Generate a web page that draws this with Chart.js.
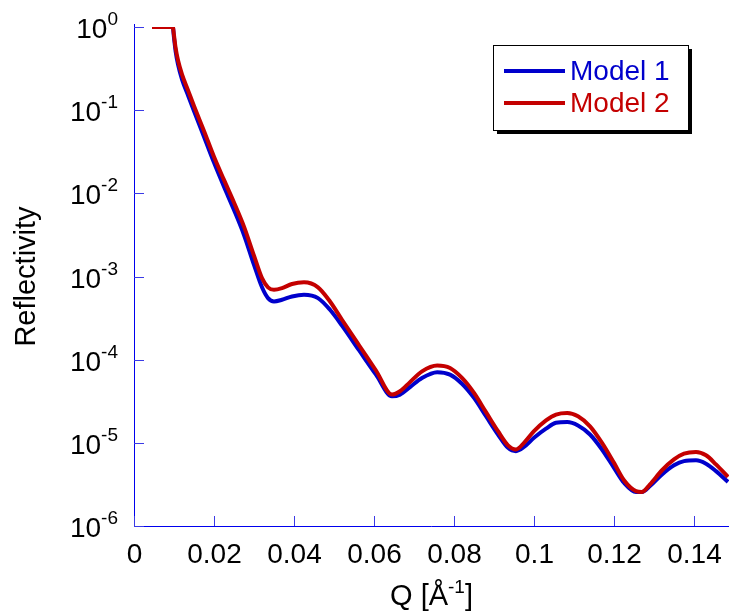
<!DOCTYPE html>
<html>
<head>
<meta charset="utf-8">
<script src="https://cdn.jsdelivr.net/npm/chart.js@4"></script>
<style>
  html, body { margin: 0; padding: 0; background: #fff; }
  #wrap { width: 729px; height: 615px; }
</style>
</head>
<body>
<div id="wrap"><canvas id="chart" width="729" height="615"></canvas></div>
<script>
// --- Data ---
const qValues = [0.0045, 0.0097, 0.0100, 0.0104, 0.0110, 0.0120, 0.0135, 0.015, 0.0175, 0.020,
  0.0225, 0.025, 0.0275, 0.030, 0.032, 0.0335, 0.035, 0.037, 0.0395, 0.0425,
  0.046, 0.049, 0.052, 0.0563, 0.0605, 0.0645, 0.0665, 0.069, 0.072, 0.0758,
  0.079, 0.082, 0.085, 0.088, 0.091, 0.0935, 0.0955, 0.0975, 0.100, 0.103,
  0.1055, 0.1083, 0.111, 0.114, 0.117, 0.120, 0.1225, 0.1255, 0.127, 0.129,
  0.132, 0.135, 0.1375, 0.1405, 0.143, 0.1455, 0.1485];

const model1 = [1, 1, 0.741, 0.513, 0.355, 0.234, 0.151, 0.0977, 0.0479, 0.0234,
  0.0120, 6.31e-3, 3.16e-3, 1.38e-3, 7.41e-4, 5.50e-4, 5.01e-4, 5.25e-4, 5.75e-4, 6.03e-4,
  5.50e-4, 3.98e-4, 2.57e-4, 1.29e-4, 6.61e-5, 3.63e-5, 3.80e-5, 4.68e-5, 6.03e-5, 7.08e-5,
  6.61e-5, 5.13e-5, 3.47e-5, 2.09e-5, 1.26e-5, 8.71e-6, 7.94e-6, 8.91e-6, 1.15e-5, 1.48e-5,
  1.74e-5, 1.78e-5, 1.62e-5, 1.26e-5, 8.32e-6, 5.01e-6, 3.31e-6, 2.57e-6, 2.57e-6, 3.02e-6,
  4.17e-6, 5.37e-6, 6.03e-6, 6.17e-6, 5.62e-6, 4.57e-6, 3.39e-6];

const model2 = [1, 1, 0.794, 0.562, 0.398, 0.269, 0.174, 0.112, 0.0562, 0.0275,
  0.0145, 7.76e-3, 3.98e-3, 1.78e-3, 9.55e-4, 7.41e-4, 6.92e-4, 7.24e-4, 8.13e-4, 8.51e-4,
  7.41e-4, 5.01e-4, 3.02e-4, 1.48e-4, 7.41e-5, 3.80e-5, 4.17e-5, 5.37e-5, 7.24e-5, 8.51e-5,
  7.94e-5, 6.03e-5, 3.98e-5, 2.34e-5, 1.38e-5, 9.33e-6, 8.32e-6, 1.00e-5, 1.38e-5, 1.86e-5,
  2.19e-5, 2.29e-5, 2.09e-5, 1.58e-5, 1.00e-5, 5.75e-6, 3.55e-6, 2.63e-6, 2.57e-6, 3.16e-6,
  4.68e-6, 6.31e-6, 7.41e-6, 7.76e-6, 7.08e-6, 5.50e-6, 3.89e-6];

const seriesLabels = ['Model 1', 'Model 2'];
const xTicks = [0, 0.02, 0.04, 0.06, 0.08, 0.1, 0.12, 0.14];
const xTickLabels = ['0', '0.02', '0.04', '0.06', '0.08', '0.1', '0.12', '0.14'];
const yTicks = [1e0, 1e-1, 1e-2, 1e-3, 1e-4, 1e-5, 1e-6];
const yTickExponents = ['0', '-1', '-2', '-3', '-4', '-5', '-6'];

const FONT = 'Arial, "Liberation Sans", sans-serif';
const AXIS_BLUE = '#0000ee';
const COLORS = ['#0000cc', '#c40000'];

function toPoints(ys) {
  return qValues.map((q, i) => ({ x: q, y: ys[i] }));
}

// --- Axes, ticks, labels and legend drawn in the style of the reference ---
const axesPlugin = {
  id: 'matlabAxes',
  afterDraw(chart) {
    const ctx = chart.ctx;
    const area = chart.chartArea;
    const xs = chart.scales.x, ys = chart.scales.y;
    ctx.save();

    // axis lines
    ctx.strokeStyle = AXIS_BLUE;
    ctx.lineWidth = 1;
    ctx.beginPath();
    ctx.moveTo(area.left + 0.5, area.top - 3);
    ctx.lineTo(area.left + 0.5, area.bottom + 0.5);
    ctx.lineTo(area.right, area.bottom + 0.5);
    ctx.stroke();

    // x ticks (inward) + labels
    ctx.strokeStyle = '#3a3ae6';
    ctx.fillStyle = '#000';
    ctx.font = '28px ' + FONT;
    ctx.textAlign = 'center';
    ctx.textBaseline = 'alphabetic';
    xTicks.forEach((v, i) => {
      const px = Math.round(xs.getPixelForValue(v)) + 0.5;
      ctx.beginPath();
      ctx.moveTo(px, area.bottom);
      ctx.lineTo(px, area.bottom - 10);
      ctx.stroke();
      ctx.fillText(xTickLabels[i], px, 563);
    });

    // y ticks (inward) + 10^n labels
    yTicks.forEach((v, i) => {
      const py = Math.round(ys.getPixelForValue(v)) + 0.5;
      ctx.beginPath();
      ctx.moveTo(area.left, py);
      ctx.lineTo(area.left + 10, py);
      ctx.stroke();
      ctx.font = '28px ' + FONT;
      const baseW = ctx.measureText('10').width;
      ctx.font = '19px ' + FONT;
      const expW = ctx.measureText(yTickExponents[i]).width;
      const right = 118;
      const startX = right - expW - baseW;
      ctx.textAlign = 'left';
      ctx.font = '28px ' + FONT;
      ctx.fillText('10', startX, py + 10);
      ctx.font = '19px ' + FONT;
      ctx.fillText(yTickExponents[i], startX + baseW, py - 3);
    });

    // axis titles
    ctx.font = '29px ' + FONT;
    ctx.textAlign = 'center';
    ctx.save();
    ctx.translate(35, (area.top + area.bottom) / 2);
    ctx.rotate(-Math.PI / 2);
    ctx.fillText('Reflectivity', 0, 0);
    ctx.restore();

    const cx = (area.left + area.right) / 2;
    ctx.font = '29px ' + FONT;
    const partA = 'Q [Å', partB = '-1', partC = ']';
    const wA = ctx.measureText(partA).width, wC = ctx.measureText(partC).width;
    ctx.font = '19px ' + FONT;
    const wB = ctx.measureText(partB).width;
    let tx = cx - (wA + wB + wC) / 2;
    ctx.textAlign = 'left';
    ctx.font = '29px ' + FONT;
    ctx.fillText(partA, tx, 605);
    ctx.font = '19px ' + FONT;
    ctx.fillText(partB, tx + wA, 593);
    ctx.font = '29px ' + FONT;
    ctx.fillText(partC, tx + wA + wB, 605);

    // legend box with shadow
    const bx = 493, by = 45, bw = 195, bh = 85;
    ctx.fillStyle = '#000';
    ctx.fillRect(bx + 4, by + 4, bw, bh);
    ctx.fillStyle = '#fff';
    ctx.fillRect(bx, by, bw, bh);
    ctx.strokeStyle = '#000';
    ctx.lineWidth = 1;
    ctx.strokeRect(bx + 0.5, by + 0.5, bw, bh);
    chart.data.datasets.forEach((ds, i) => {
      const ly = 71 + i * 32;
      ctx.strokeStyle = ds.borderColor;
      ctx.lineWidth = 4;
      ctx.beginPath();
      ctx.moveTo(504, ly);
      ctx.lineTo(565, ly);
      ctx.stroke();
      ctx.fillStyle = ds.borderColor;
      ctx.font = '28px ' + FONT;
      ctx.textAlign = 'left';
      ctx.textBaseline = 'middle';
      ctx.fillText(ds.label, 570, ly + 1);
    });
    ctx.restore();
  }
};

new Chart(document.getElementById('chart').getContext('2d'), {
  type: 'line',
  data: {
    datasets: [
      { label: seriesLabels[0], data: toPoints(model1), borderColor: COLORS[0], order: 1 },
      { label: seriesLabels[1], data: toPoints(model2), borderColor: COLORS[1], order: 0 }
    ]
  },
  options: {
    responsive: false,
    animation: false,
    devicePixelRatio: 1,
    layout: { padding: { left: 134, right: 0, top: 27, bottom: 89 } },
    elements: {
      line: { borderWidth: 4, cubicInterpolationMode: 'monotone', borderJoinStyle: 'round', fill: false },
      point: { radius: 0, hoverRadius: 0 }
    },
    plugins: { legend: { display: false }, tooltip: { enabled: false } },
    scales: {
      x: { type: 'linear', min: 0, max: 0.14875, display: false },
      y: { type: 'logarithmic', min: 1e-6, max: 1, display: false }
    }
  },
  plugins: [axesPlugin]
});
</script>
</body>
</html>
